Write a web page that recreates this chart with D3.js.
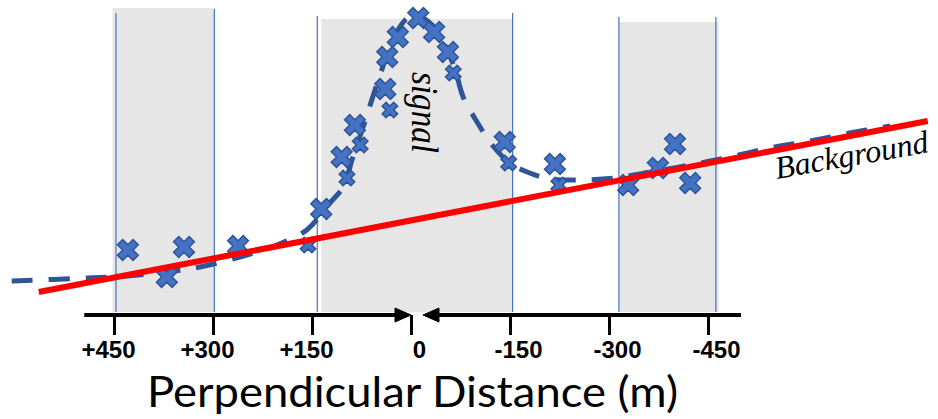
<!DOCTYPE html>
<html>
<head>
<meta charset="utf-8">
<script src="https://cdn.jsdelivr.net/npm/d3@7"></script>
<style>
  body { margin: 0; background: #fff; }
  svg { display: block; }
</style>
</head>
<body>
<div id="chart"></div>
<script>
// distances in metres, values in arbitrary counts
const xTicks = [450, 300, 150, 0, -150, -300, -450];
const tickLabels = ["+450", "+300", "+150", "0", "-150", "-300", "-450"];

// shaded sideband / signal regions
const bandFrom = [452, 136, -315];
const bandTo = [298, -154, -466];
const bandTop = [302, 291, 288];
const edgeLines = [447, 298, 142, -154, -315, -462];
const edgeTops = [297, 301, 294, 297, 293, 293];

// measured points (large crosses)
const distA = [429, 370, 344, 262, 136, 105, 85, 39, 36, 20, -11, -35, -56, -142, -218, -329, -374, -400, -423];
const valA = [60, 33, 63, 64, 101, 153, 185, 221, 253, 273, 292, 278, 258, 168, 146, 125, 142, 166, 127];
// measured points (small crosses)
const distB = [156, 97, 77, 32, -64, -148, -224];
const valB = [65, 132, 165, 200, 237, 147, 125];

// fitted curve (signal + background)
const fitDist = [605, 491, 430, 370, 320, 259, 203, 158, 123, 103, 88, 70, 58, 39, 24, 5, -14, -32, -51, -67, -79, -101, -123, -150, -180, -211, -256, -309, -362, -423, -483, -544, -604, -665, -726];
const fitVal = [29, 32, 34, 38, 43, 53, 65, 80, 107, 123, 153, 188, 213, 250, 275, 292, 293, 285, 265, 240, 213, 187, 165, 147, 137, 131, 130, 132, 138, 145, 153, 162, 169, 177, 184];

// linear background
const bgDist = [564, -783];
const bgVal = [18, 189];

const width = 938, height = 419;
const blue = "#4472C4", darkBlue = "#2F5597";

const svg = d3.select("#chart").append("svg")
    .attr("width", width)
    .attr("height", height);

svg.append("rect").attr("width", width).attr("height", height).style("fill", "#fff");

const x = d3.scaleLinear().domain([450, -450]).range([114, 708]);
const y = d3.scaleLinear().domain([0, 300]).range([310, 10]);

// gray bands
svg.append("g")
    .selectAll("rect")
    .data(bandFrom)
    .enter()
    .append("rect")
    .attr("x", (d) => x(d))
    .attr("width", (d, i) => x(bandTo[i]) - x(d))
    .attr("y", (d, i) => y(bandTop[i]))
    .attr("height", (d, i) => y(-2) - y(bandTop[i]))
    .style("fill", "#E6E6E6");

// thin blue boundary lines
svg.append("g")
    .selectAll("line")
    .data(edgeLines)
    .enter()
    .append("line")
    .attr("x1", (d) => x(d))
    .attr("x2", (d) => x(d))
    .attr("y1", (d, i) => y(edgeTops[i]))
    .attr("y2", y(-2))
    .style("stroke", blue)
    .style("stroke-width", 1.2);

// dashed fit
const fitLine = d3.line()
    .x((d, i) => x(d))
    .y((d, i) => y(fitVal[i]))
    .curve(d3.curveCatmullRom);

svg.append("path")
    .attr("d", fitLine(fitDist))
    .style("fill", "none")
    .style("stroke", darkBlue)
    .style("stroke-width", 5)
    .style("stroke-dasharray", "21,16");

// crosses
function addCrosses(dist, vals, size) {
    svg.append("g")
        .selectAll("path")
        .data(dist)
        .enter()
        .append("path")
        .attr("d", d3.symbol().type(d3.symbolCross).size(size))
        .attr("transform", (d, i) => "translate(" + x(d) + "," + y(vals[i]) + ") rotate(45)")
        .style("fill", blue)
        .style("stroke", darkBlue)
        .style("stroke-width", 1.5);
}
addCrosses(distA, valA, 270);
addCrosses(distB, valB, 150);

// red background line
svg.append("line")
    .attr("x1", x(bgDist[0]))
    .attr("y1", y(bgVal[0]))
    .attr("x2", x(bgDist[1]))
    .attr("y2", y(bgVal[1]))
    .style("stroke", "#FF0000")
    .style("stroke-width", 6);

// axis
const axisY = 315;
const axis = svg.append("g")
    .attr("transform", "translate(0," + axisY + ")")
    .call(d3.axisBottom(x)
        .tickValues(xTicks)
        .tickSize(20)
        .tickPadding(6)
        .tickFormat((d, i) => tickLabels[i]));
axis.select(".domain").remove();
axis.selectAll(".tick line").style("stroke", "#000").style("stroke-width", 3);
axis.selectAll(".tick text")
    .attr("dx", (d) => d > 0 ? -6 : 8)
    .style("font-family", "'Liberation Sans', Arial, sans-serif")
    .style("font-weight", "bold")
    .style("font-size", "24px")
    .style("fill", "#000");

// arrows pointing to zero from both sides
const arrows = svg.append("g").style("fill", "#000").style("stroke", "#000");
arrows.append("line")
    .attr("x1", x(495)).attr("x2", x(0) - 14)
    .attr("y1", axisY).attr("y2", axisY)
    .style("stroke-width", 4);
arrows.append("path")
    .attr("d", "M" + x(0) + "," + axisY + "L" + (x(0) - 16) + "," + (axisY - 7) + "L" + (x(0) - 16) + "," + (axisY + 7) + "Z")
    .style("stroke-width", 1);
arrows.append("line")
    .attr("x1", x(0) + 26).attr("x2", x(-500))
    .attr("y1", axisY).attr("y2", axisY)
    .style("stroke-width", 4);
arrows.append("path")
    .attr("d", "M" + (x(0) + 12) + "," + axisY + "L" + (x(0) + 28) + "," + (axisY - 7) + "L" + (x(0) + 28) + "," + (axisY + 7) + "Z")
    .style("stroke-width", 1);

// axis title
svg.append("text")
    .attr("x", 147)
    .attr("y", 407)
    .attr("textLength", 531)
    .attr("lengthAdjust", "spacingAndGlyphs")
    .style("font-family", "Lato, 'Open Sans', sans-serif")
    .style("font-size", "43px")
    .style("fill", "#000")
    .text("Perpendicular Distance (m)");

// annotations
svg.append("text")
    .attr("transform", "translate(412,72) rotate(90)")
    .attr("textLength", 81)
    .attr("lengthAdjust", "spacingAndGlyphs")
    .style("font-family", "'Liberation Serif', 'DejaVu Serif', serif")
    .style("font-style", "italic")
    .style("font-size", "37px")
    .style("fill", "#000")
    .text("signal");

svg.append("text")
    .attr("transform", "translate(777,179) rotate(-10)")
    .attr("textLength", 155)
    .attr("lengthAdjust", "spacingAndGlyphs")
    .style("font-family", "'Liberation Serif', 'DejaVu Serif', serif")
    .style("font-style", "italic")
    .style("font-size", "32px")
    .style("fill", "#000")
    .text("Background");
</script>
</body>
</html>
